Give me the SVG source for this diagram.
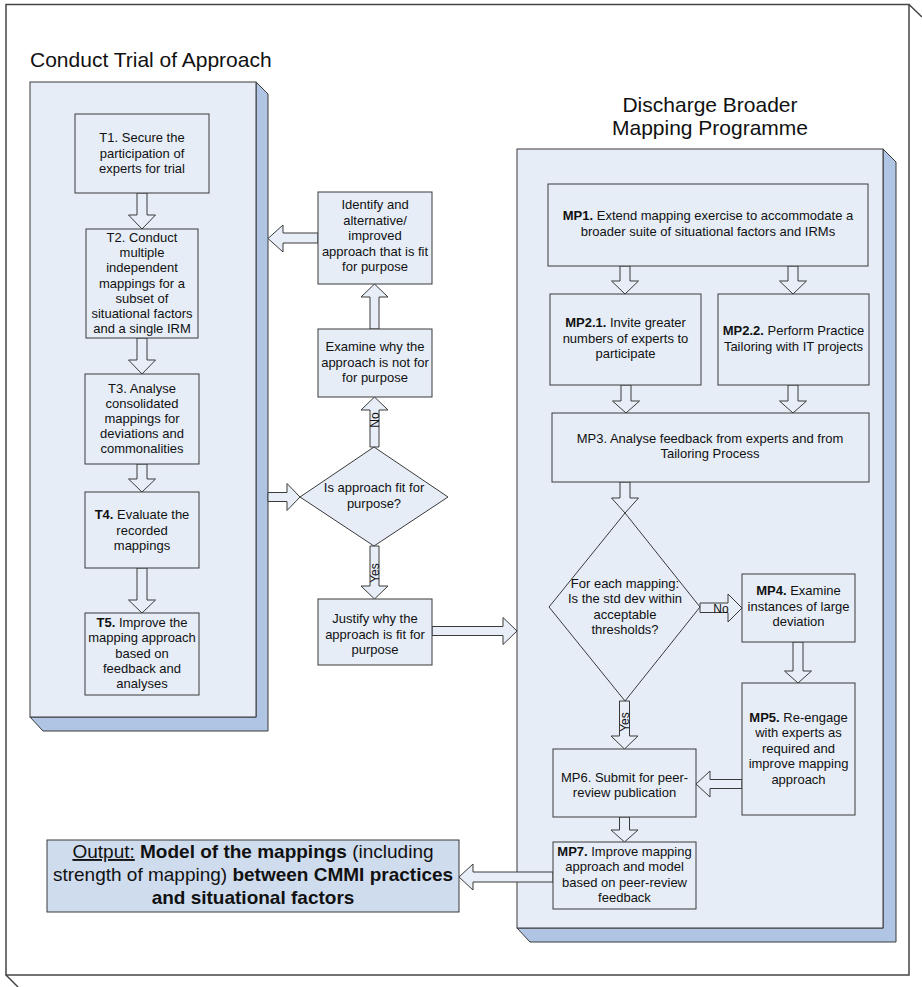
<svg xmlns="http://www.w3.org/2000/svg" width="922" height="987" viewBox="0 0 922 987">
<style>
text{font-family:"Liberation Sans",Arial,sans-serif;fill:#111;}
.t{font-size:13px;text-anchor:middle;}
.b{font-weight:bold;}
.title{font-size:21px;}
.box{fill:#e6edf7;stroke:#3a3a3a;stroke-width:1;}
.front{fill:#e6edf7;stroke:#3a3a3a;stroke-width:1;}
.depth{fill:#b0c5e3;stroke:#3a3a3a;stroke-width:1;}
.arr{fill:#e8eef8;stroke:#3a3a3a;stroke-width:1;}
.lbl{font-size:12px;text-anchor:middle;}
.out{font-size:19px;text-anchor:middle;}
</style>
<rect width="922" height="987" fill="#ffffff"/>
<!-- outer frame -->
<g id="frame" fill="none" stroke="#444" stroke-width="1.5">
<rect x="6" y="4.5" width="903" height="970.5"/>
<line x1="909" y1="4.5" x2="922" y2="17"/>
<line x1="6" y1="975" x2="18" y2="987"/>
</g>
<!-- left container -->
<g id="trial">
<text class="title" x="30" y="67">Conduct Trial of Approach</text>
<polygon class="depth" points="256,82 268,94 268,731 43,731 30,717 256,717"/>
<rect class="front" x="30" y="82" width="226" height="635"/>
</g>
<!-- right container -->
<g id="programme">
<text class="title" x="710" y="112" text-anchor="middle">Discharge Broader</text>
<text class="title" x="710" y="135" text-anchor="middle">Mapping Programme</text>
<polygon class="depth" points="883,149 896,162 896,942 530,942 517,928 883,928"/>
<rect class="front" x="517" y="149" width="366" height="779"/>
</g>
<!-- connectors -->
<g id="connectors">
<polygon class="arr" points="137,193 147,193 147,215 155.5,215 142,229 128.5,215 137,215"/>
<polygon class="arr" points="137,338 147,338 147,360 155.5,360 142,374 128.5,360 137,360"/>
<polygon class="arr" points="137,464 147,464 147,479 155.5,479 142,492 128.5,479 137,479"/>
<polygon class="arr" points="137,568 147,568 147,600 155.5,600 142,613 128.5,600 137,600"/>
<polygon class="arr" points="318,233 283,233 283,225 268,238.5 283,252 283,243 318,243"/>
<polygon class="arr" points="370,329 379,329 379,297 388,297 374.5,284 361,297 370,297"/>
<polygon class="arr" points="370,447 379,447 379,410 388,410 374.5,397 361,410 370,410"/>
<text class="lbl" transform="translate(379,420) rotate(-90)">No</text>
<polygon class="arr" points="268,492.5 287,492.5 287,483.5 300,497 287,510.5 287,501.5 268,501.5"/>
<polygon class="arr" points="370,546 379,546 379,586 388,586 374.5,599 361,586 370,586"/>
<text class="lbl" transform="translate(379,573) rotate(-90)">Yes</text>
<polygon class="arr" points="432,626.5 503,626.5 503,617.5 517,631 503,644.5 503,635.5 432,635.5"/>
<polygon class="arr" points="620,266 630,266 630,281 638.5,281 625,294 611.5,281 620,281"/>
<polygon class="arr" points="788,266 798,266 798,281 806.5,281 793,294 779.5,281 788,281"/>
<polygon class="arr" points="621,385 631,385 631,401 639.5,401 626,413 612.5,401 621,401"/>
<polygon class="arr" points="788,385 798,385 798,401 806.5,401 793,413 779.5,401 788,401"/>
<polygon class="arr" points="620,482 630,482 630,498 638.5,498 625,513 611.5,498 620,498"/>
<polygon class="arr" points="700,603 728,603 728,594 742,608 728,622 728,612.5 700,612.5"/>
<text class="lbl" x="721" y="612.5">No</text>
<polygon class="arr" points="793,642 803,642 803,671 811.5,671 798,683 784.5,671 793,671"/>
<polygon class="arr" points="619.5,701 629.5,701 629.5,736 638,736 624.5,749 611,736 619.5,736"/>
<text class="lbl" transform="translate(629,722) rotate(-90)">Yes</text>
<polygon class="arr" points="742,779.5 710,779.5 710,771 696,784 710,797 710,788.5 742,788.5"/>
<polygon class="arr" points="619.5,817 629.5,817 629.5,830 638,830 624.5,842 611,830 619.5,830"/>
<polygon class="arr" points="553,872 473,872 473,864 459,877 473,890 473,882 553,882"/>
</g>
<!-- trial nodes -->
<g id="T1">
<rect class="box" x="75" y="114" width="134" height="79"/>
<text class="t" x="142" y="142">T1. Secure the</text>
<text class="t" x="142" y="157.5">participation of</text>
<text class="t" x="142" y="173">experts for trial</text>
</g>
<g id="T2">
<rect class="box" x="86" y="229" width="112" height="109"/>
<text class="t" x="142" y="242">T2. Conduct</text>
<text class="t" x="142" y="257.2">multiple</text>
<text class="t" x="142" y="272.4">independent</text>
<text class="t" x="142" y="287.6">mappings for a</text>
<text class="t" x="142" y="302.8">subset of</text>
<text class="t" x="142" y="318">situational factors</text>
<text class="t" x="142" y="333.2">and a single IRM</text>
</g>
<g id="T3">
<rect class="box" x="85" y="374" width="114" height="90"/>
<text class="t" x="142" y="392.5">T3. Analyse</text>
<text class="t" x="142" y="407.5">consolidated</text>
<text class="t" x="142" y="422.5">mappings for</text>
<text class="t" x="142" y="437.5">deviations and</text>
<text class="t" x="142" y="452.5">commonalities</text>
</g>
<g id="T4">
<rect class="box" x="85" y="492" width="114" height="76"/>
<text class="t" x="142" y="519"><tspan class="b">T4.</tspan> Evaluate the</text>
<text class="t" x="142" y="534.5">recorded</text>
<text class="t" x="142" y="550">mappings</text>
</g>
<g id="T5">
<rect class="box" x="85" y="613" width="114" height="82"/>
<text class="t" x="142" y="627"><tspan class="b">T5.</tspan> Improve the</text>
<text class="t" x="142" y="642.3">mapping approach</text>
<text class="t" x="142" y="657.6">based on</text>
<text class="t" x="142" y="672.9">feedback and</text>
<text class="t" x="142" y="688.2">analyses</text>
</g>
<!-- middle nodes -->
<g id="identify">
<rect class="box" x="318" y="192" width="114" height="92"/>
<text class="t" x="375" y="209">Identify and</text>
<text class="t" x="375" y="224.5">alternative/</text>
<text class="t" x="375" y="240">improved</text>
<text class="t" x="375" y="255.5">approach that is fit</text>
<text class="t" x="375" y="271">for purpose</text>
</g>
<g id="examine">
<rect class="box" x="318" y="329" width="114" height="68"/>
<text class="t" x="375" y="351">Examine why the</text>
<text class="t" x="375" y="366.5">approach is not for</text>
<text class="t" x="375" y="382">for purpose</text>
</g>
<g id="fit">
<polygon class="box" points="374,447 448,497 374,546 300,497"/>
<text class="t" x="374" y="492">Is approach fit for</text>
<text class="t" x="374" y="507.5">purpose?</text>
</g>
<g id="justify">
<rect class="box" x="318" y="599" width="114" height="66"/>
<text class="t" x="375" y="623">Justify why the</text>
<text class="t" x="375" y="638.5">approach is fit for</text>
<text class="t" x="375" y="654">purpose</text>
</g>
<!-- programme nodes -->
<g id="MP1">
<rect class="box" x="548" y="184" width="320" height="82"/>
<text class="t" x="708" y="219.5"><tspan class="b">MP1.</tspan> Extend mapping exercise to accommodate a</text>
<text class="t" x="708" y="235.5">broader suite of situational factors and IRMs</text>
</g>
<g id="MP2.1">
<rect class="box" x="550" y="294" width="151" height="91"/>
<text class="t" x="625.5" y="327"><tspan class="b">MP2.1.</tspan> Invite greater</text>
<text class="t" x="625.5" y="342.5">numbers of experts to</text>
<text class="t" x="625.5" y="358">participate</text>
</g>
<g id="MP2.2">
<rect class="box" x="718" y="294" width="151" height="91"/>
<text class="t" x="793.5" y="335"><tspan class="b">MP2.2.</tspan> Perform Practice</text>
<text class="t" x="793.5" y="350.5">Tailoring with IT projects</text>
</g>
<g id="MP3">
<rect class="box" x="552" y="413" width="317" height="69"/>
<text class="t" x="710" y="442.5">MP3. Analyse feedback from experts and from</text>
<text class="t" x="710" y="457.5">Tailoring Process</text>
</g>
<g id="threshold">
<polygon class="box" points="625,513 700,607 625,701 549,607"/>
<text class="t" x="625" y="588">For each mapping:</text>
<text class="t" x="625" y="603.3">Is the std dev within</text>
<text class="t" x="625" y="618.6">acceptable</text>
<text class="t" x="625" y="633.9">thresholds?</text>
</g>
<g id="MP4">
<rect class="box" x="742" y="574" width="113" height="68"/>
<text class="t" x="798.5" y="595"><tspan class="b">MP4.</tspan> Examine</text>
<text class="t" x="798.5" y="610.5">instances of large</text>
<text class="t" x="798.5" y="626">deviation</text>
</g>
<g id="MP5">
<rect class="box" x="742" y="683" width="113" height="132"/>
<text class="t" x="798.5" y="721.5"><tspan class="b">MP5.</tspan> Re-engage</text>
<text class="t" x="798.5" y="737">with experts as</text>
<text class="t" x="798.5" y="752.5">required and</text>
<text class="t" x="798.5" y="768">improve mapping</text>
<text class="t" x="798.5" y="783.5">approach</text>
</g>
<g id="MP6">
<rect class="box" x="553" y="749" width="143" height="68"/>
<text class="t" x="624.5" y="781.5">MP6. Submit for peer-</text>
<text class="t" x="624.5" y="797">review publication</text>
</g>
<g id="MP7">
<rect class="box" x="553" y="842" width="143" height="67"/>
<text class="t" x="624.5" y="855.5"><tspan class="b">MP7.</tspan> Improve mapping</text>
<text class="t" x="624.5" y="871">approach and model</text>
<text class="t" x="624.5" y="886.5">based on peer-review</text>
<text class="t" x="624.5" y="902">feedback</text>
</g>
<!-- output -->
<g id="output">
<rect x="47" y="840" width="412" height="72" fill="#cfdcee" stroke="#3a3a3a" stroke-width="1"/>
<text class="out" x="253" y="858"><tspan text-decoration="underline">Output:</tspan> <tspan class="b">Model of the mappings</tspan> (including</text>
<text class="out" x="253" y="881">strength of mapping) <tspan class="b">between CMMI practices</tspan></text>
<text class="out b" x="253" y="904">and situational factors</text>
</g>
</svg>
